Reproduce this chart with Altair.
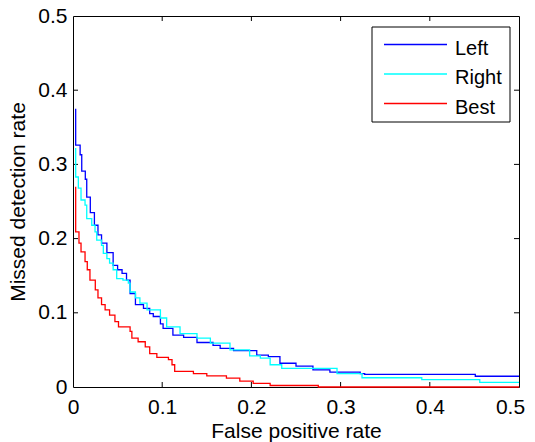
import altair as alt
import pandas as pd

# ---------------- data ----------------
series_names = ["Left", "Right", "Best"]
series_colors = ["#0000ff", "#00ffff", "#ff0000"]

left_fpr = [0.003, 0.003, 0.008, 0.0098, 0.0138, 0.0154, 0.0194, 0.024, 0.028, 0.032,
            0.038, 0.045, 0.050, 0.055, 0.060, 0.064, 0.070, 0.079, 0.086, 0.090,
            0.098, 0.101, 0.112, 0.124, 0.139, 0.157, 0.165, 0.180, 0.206, 0.219,
            0.232, 0.250, 0.269, 0.288, 0.322, 0.327, 0.451, 0.500]
left_miss = [0.375, 0.326, 0.313, 0.291, 0.280, 0.256, 0.235, 0.218, 0.205, 0.194,
             0.181, 0.164, 0.158, 0.153, 0.144, 0.126, 0.111, 0.106, 0.099, 0.095,
             0.085, 0.079, 0.070, 0.067, 0.060, 0.056, 0.052, 0.049, 0.043, 0.041,
             0.032, 0.028, 0.023, 0.020, 0.018, 0.017, 0.0145, 0.0145]

right_fpr = [0.003, 0.003, 0.006, 0.009, 0.0135, 0.0154, 0.021, 0.0247, 0.0266, 0.032,
             0.034, 0.038, 0.041, 0.045, 0.049, 0.056, 0.062, 0.064, 0.070, 0.075,
             0.083, 0.098, 0.105, 0.120, 0.139, 0.154, 0.176, 0.198, 0.210, 0.221,
             0.234, 0.296, 0.324, 0.391, 0.456, 0.500]
right_miss = [0.322, 0.283, 0.268, 0.252, 0.245, 0.227, 0.218, 0.209, 0.198, 0.191,
              0.180, 0.173, 0.167, 0.158, 0.146, 0.144, 0.140, 0.128, 0.120, 0.113,
              0.104, 0.093, 0.081, 0.072, 0.066, 0.059, 0.050, 0.042, 0.039, 0.030,
              0.025, 0.018, 0.0125, 0.010, 0.0063, 0.0063]

best_fpr = [0.003, 0.003, 0.0067, 0.009, 0.0135, 0.016, 0.019, 0.025, 0.028, 0.032,
            0.036, 0.041, 0.047, 0.051, 0.064, 0.066, 0.073, 0.081, 0.086, 0.094,
            0.107, 0.111, 0.114, 0.135, 0.150, 0.172, 0.187, 0.202, 0.221, 0.275,
            0.500]
best_miss = [0.270, 0.209, 0.194, 0.182, 0.169, 0.158, 0.144, 0.131, 0.120, 0.111,
             0.104, 0.097, 0.088, 0.081, 0.075, 0.066, 0.061, 0.054, 0.045, 0.040,
             0.037, 0.030, 0.021, 0.018, 0.015, 0.012, 0.008, 0.005, 0.002, 0.0,
             0.0]

axis_ticks = [0, 0.1, 0.2, 0.3, 0.4, 0.5]
inner_ticks = [0.1, 0.2, 0.3, 0.4]

x_title = "False positive rate"
y_title = "Missed detection rate"

# ---------------- tables ----------------
rows = []
for name, xs_, ys_ in zip(series_names, [left_fpr, right_fpr, best_fpr],
                          [left_miss, right_miss, best_miss]):
    for i, (a, b) in enumerate(zip(xs_, ys_)):
        rows.append({"series": name, "fpr": a, "miss": b, "idx": i})
df = pd.DataFrame(rows)
tick_df = pd.DataFrame({"t": inner_ticks})

FONT = "Liberation Sans"
FS = 21
LFS = 20
W, H = 446, 371

xscale = alt.Scale(domain=[0, 0.5], nice=False, zero=False)
yscale = alt.Scale(domain=[0, 0.5], nice=False, zero=False)
color_scale = alt.Scale(domain=series_names, range=series_colors)

common_axis = dict(grid=False, ticks=False, tickSize=0, domain=True, domainColor="black",
                   domainWidth=1, labelFont=FONT, labelFontSize=FS, labelColor="black",
                   labelOverlap=False, labelFlush=False, values=axis_ticks, format="~g",
                   titleFont=FONT, titleFontSize=FS, titleFontWeight="normal",
                   titleColor="black", titleBaseline="alphabetic")

lines = alt.Chart(df).mark_line(interpolate="step-after", strokeWidth=1.3).encode(
    x=alt.X("fpr:Q", scale=xscale,
            axis=alt.Axis(orient="bottom", labelPadding=9, title=x_title, titleY=50,
                          labelOffset={"condition": {"test": "datum.value >= 0.45",
                                                     "value": -9},
                                       "value": 0},
                          **common_axis)),
    y=alt.Y("miss:Q", scale=yscale,
            axis=alt.Axis(orient="left", labelPadding=6, title=y_title, titleX=-49,
                          titleAngle=270, **common_axis)),
    color=alt.Color("series:N", scale=color_scale, legend=None),
    order=alt.Order("idx:Q"),
)

frame_axis = dict(labels=False, ticks=False, tickSize=0, grid=False, domain=True,
                  domainColor="black", domainWidth=1, title=None)

top_ticks = alt.Chart(tick_df).mark_rule(color="black", strokeWidth=1).encode(
    x=alt.X("t:Q", scale=xscale, axis=alt.Axis(orient="top", **frame_axis)),
    y=alt.value(0), y2=alt.value(5),
)
bottom_ticks = alt.Chart(tick_df).mark_rule(color="black", strokeWidth=1).encode(
    x=alt.X("t:Q", scale=xscale, axis=None),
    y=alt.value(H), y2=alt.value(H - 5),
)
left_ticks = alt.Chart(tick_df).mark_rule(color="black", strokeWidth=1).encode(
    y=alt.Y("t:Q", scale=yscale, axis=None),
    x=alt.value(0), x2=alt.value(5),
)
right_ticks = alt.Chart(tick_df).mark_rule(color="black", strokeWidth=1).encode(
    y=alt.Y("t:Q", scale=yscale, axis=alt.Axis(orient="right", **frame_axis)),
    x=alt.value(W), x2=alt.value(W - 5),
)

# ---------------- legend (drawn inside the plot) ----------------
leg_df = pd.DataFrame({
    "series": series_names,
    "ly": [28.5 + 29.5 * i for i in range(len(series_names))],
})
leg_df["ty"] = leg_df["ly"] + 10

leg_box = alt.Chart(pd.DataFrame({"k": [0]})).mark_rect(
    fill="white", stroke="black", strokeWidth=1).encode(
    x=alt.value(299), x2=alt.value(437), y=alt.value(11), y2=alt.value(106))

leg_lines = alt.Chart(leg_df).mark_rule(strokeWidth=1.5).encode(
    x=alt.value(311), x2=alt.value(374),
    y=alt.Y("ly:Q", scale=None),
    color=alt.Color("series:N", scale=color_scale, legend=None),
)
leg_text = alt.Chart(leg_df).mark_text(
    align="left", baseline="alphabetic", font=FONT, fontSize=LFS, color="black").encode(
    x=alt.value(382),
    y=alt.Y("ty:Q", scale=None),
    text="series:N",
)

chart = alt.layer(
    top_ticks, right_ticks, bottom_ticks, left_ticks, lines, leg_box, leg_lines, leg_text
).resolve_axis(x="independent", y="independent").properties(
    width=W, height=H,
    autosize=alt.AutoSizeParams(type="none"),
    padding={"left": 65, "top": 8, "right": 8, "bottom": 55},
    background="white",
).configure_view(stroke="transparent")

chart.save("out.html", embed_options={"renderer": "svg", "actions": False})
